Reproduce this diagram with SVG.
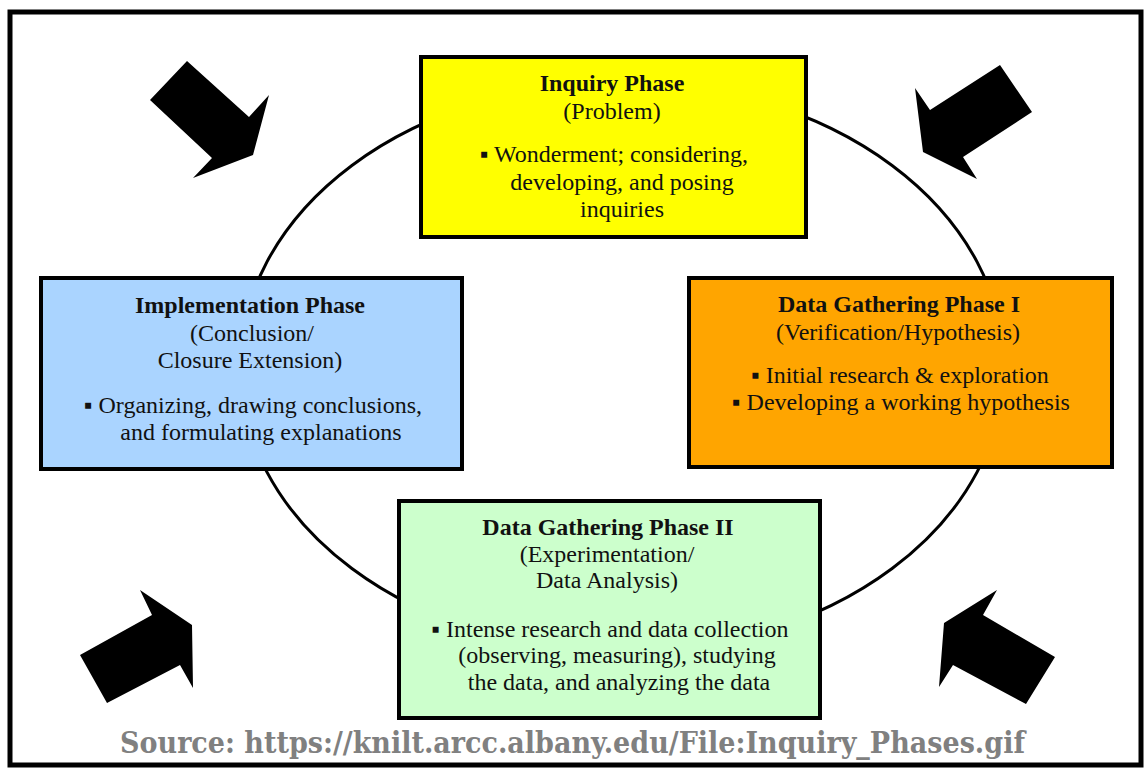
<svg xmlns="http://www.w3.org/2000/svg" width="1144" height="768" viewBox="0 0 1144 768">
<style>
.box{stroke:#000;stroke-width:4}
.t{font-family:"Liberation Serif","Times New Roman",serif;font-size:24px;fill:#111;text-anchor:middle}
.b{font-weight:bold}
.arrow{fill:#000}
.src{font-family:"DejaVu Serif","Liberation Serif",serif;font-weight:bold;font-size:30px;fill:#808080}
</style>
<rect x="0" y="0" width="1144" height="768" fill="#fff"/>
<rect id="frame" x="10" y="12" width="1131" height="753" fill="none" stroke="#000" stroke-width="5"/>
<g id="connectors">
<ellipse cx="622" cy="367" rx="382" ry="285" fill="none" stroke="#000" stroke-width="3"/>
</g>
<g id="arrows">
<polygon id="arrow-tl" class="arrow" points="150,100 187,61 249,117 269,95 253,155 193,178 212,158"/>
<polygon id="arrow-tr" class="arrow" points="1000,65 1032,112 963,157 977,179 923,152 915,88 930,110"/>
<polygon id="arrow-bl" class="arrow" points="80,655 152,615 140,590 192,625 193,688 180,665 107,703"/>
<polygon id="arrow-br" class="arrow" points="1055,657 1026,704 953,665 939,687 944,623 997,590 983,615"/>
</g>
<g id="inquiry">
<rect class="box" x="421" y="57" width="385" height="180" fill="#FFFF00"/>
<text class="t b" x="612" y="91">Inquiry Phase</text>
<text class="t" x="612" y="119">(Problem)</text>
<text class="t" x="614" y="162">▪ Wonderment; considering,</text>
<text class="t" x="622" y="190">developing, and posing</text>
<text class="t" x="622" y="217">inquiries</text>
</g>
<g id="implementation">
<rect class="box" x="41" y="278" width="421" height="191" fill="#AAD4FF"/>
<text class="t b" x="250" y="313">Implementation Phase</text>
<text class="t" x="252" y="341">(Conclusion/</text>
<text class="t" x="250" y="368">Closure Extension)</text>
<text class="t" x="253" y="413">▪ Organizing, drawing conclusions,</text>
<text class="t" x="261" y="440">and formulating explanations</text>
</g>
<g id="data1">
<rect class="box" x="689" y="278" width="423" height="189" fill="#FFA500"/>
<text class="t b" x="899" y="312">Data Gathering Phase I</text>
<text class="t" x="898" y="340">(Verification/Hypothesis)</text>
<text class="t" x="900" y="383">▪ Initial research &amp; exploration</text>
<text class="t" x="901" y="410">▪ Developing a working hypothesis</text>
</g>
<g id="data2">
<rect class="box" x="399" y="501" width="421" height="217" fill="#CCFFCC"/>
<text class="t b" x="608" y="535">Data Gathering Phase II</text>
<text class="t" x="607" y="562">(Experimentation/</text>
<text class="t" x="607" y="588">Data Analysis)</text>
<text class="t" x="610" y="637">▪ Intense research and data collection</text>
<text class="t" x="617" y="663">(observing, measuring), studying</text>
<text class="t" x="619" y="690">the data, and analyzing the data</text>
</g>
<g id="source">
<text class="src" x="120" y="753" textLength="905" lengthAdjust="spacingAndGlyphs">Source: https://knilt.arcc.albany.edu/File:Inquiry_Phases.gif</text>
</g>
</svg>
